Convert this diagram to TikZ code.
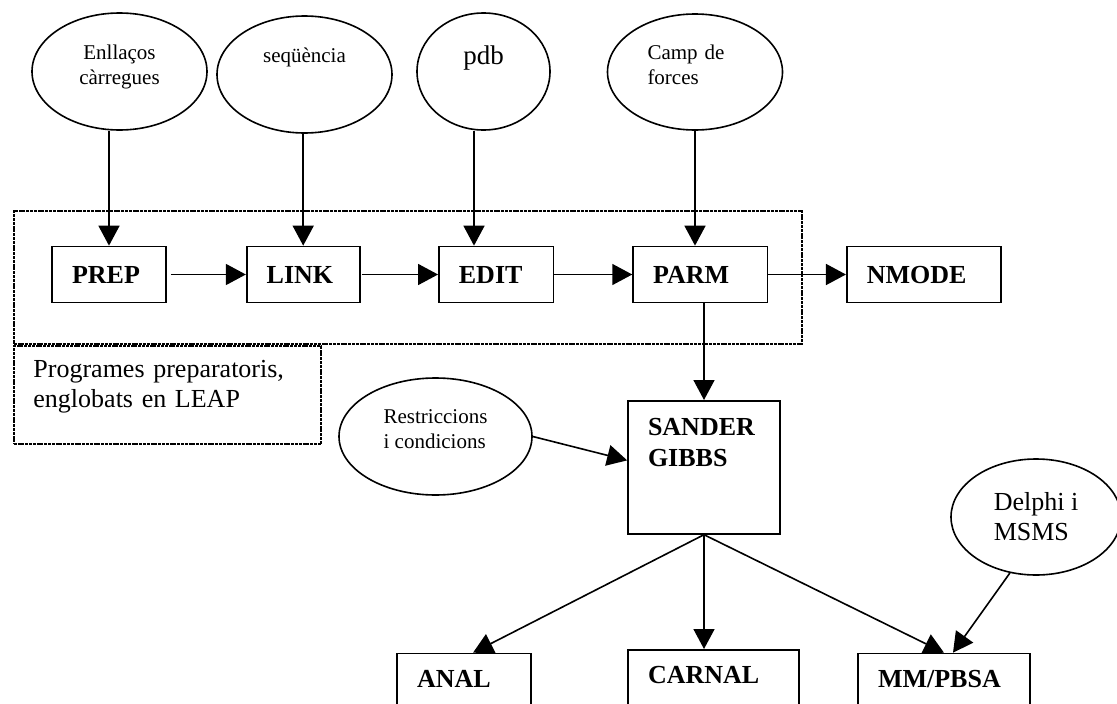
\documentclass[tikz,border=0pt]{standalone}
\usepackage{fontspec}
\setmainfont{Liberation Serif}
\usepackage{tikz}
\usetikzlibrary{arrows.meta,positioning,shapes.geometric}
\tikzset{
  prog/.style={draw,line width=1.7pt,inner xsep=20pt,inner ysep=0pt,align=left,text width=#1,minimum height=56pt,text height=17pt,text depth=0pt,font=\fontsize{26}{31}\selectfont\bfseries},
  src/.style={draw,ellipse,line width=1.6pt,inner sep=0pt,align=center,font=\fontsize{21}{25}\selectfont},
  leapbox/.style={draw,line width=2.2pt,dash pattern=on 3pt off 0.8pt,inner sep=0pt},
  ar/.style={-{Triangle[length=20pt,width=21pt]},line width=1.6pt},
}

\begin{document}
\begin{tikzpicture}[x=1pt,y=-1pt]
  \useasboundingbox (0,0) rectangle (1117,704);
  \clip (0,0) rectangle (1117,704);
  % LEAP frame
  \node[leapbox,minimum width=788.3pt,minimum height=133.5pt,anchor=north west] (leap) at (12.7,209.5) {};
  \node[leapbox,minimum width=307.3pt,minimum height=98pt,anchor=north west,text width=268pt,align=left,text depth=52pt,font=\fontsize{26}{30}\selectfont] (leaplbl) at (leap.south west) {Programes preparatoris,\\englobats en LEAP};
  % inputs
  \node[src,minimum width=175pt,minimum height=117pt,text depth=13pt] (enl) at (119.5,71.5) {Enllaços\\càrregues};
  \node[src,minimum width=175pt,minimum height=117pt,text depth=38pt] (seq) at (304.5,74.5) {seqüència};
  \node[src,minimum width=133pt,minimum height=117pt,text depth=33pt,font=\fontsize{27}{32}\selectfont] (pdb) at (483.5,71.5) {pdb};
  \node[src,minimum width=175pt,minimum height=116pt,align=left,text width=95pt,text depth=39pt] (camp) at (695,72) {Camp de\\forces};
  \node[src,minimum width=193pt,minimum height=117pt,align=left,text depth=15pt] (restr) at (435.5,436.5) {Restriccions\\i condicions};
  \node[src,minimum width=170pt,minimum height=116pt,align=left,font=\fontsize{26}{30}\selectfont] (delphi) at (1036,517) {Delphi i\\MSMS};
  % programs
  \node[prog=74pt] (prep) at (109,274.5) {PREP};
  \node[prog=73pt,right=79pt of prep] (link) {LINK};
  \node[prog=74.5pt,right=77.5pt of link] (edit) {EDIT};
  \node[prog=94.5pt,right=78pt of edit] (parm) {PARM};
  \node[prog=114pt,right=77.5pt of parm] (nmode) {NMODE};
  \node[prog=112pt,anchor=north,text height=35pt,text depth=98pt] (sander) at (704,400) {SANDER\\GIBBS};
  \node[prog=94pt,anchor=north,text height=34pt,text depth=30pt] (anal) at (464,652.7) {ANAL};
  \node[prog=131pt,anchor=north,text height=34pt,text depth=30pt] (carnal) at (713.5,649) {CARNAL};
  \node[prog=132pt,anchor=north,text height=34pt,text depth=30pt] (mmpbsa) at (944,652.7) {MM/PBSA};
  % connections
  \draw[ar] (enl.south -| prep.north) -- (prep.north);
  \draw[ar] (seq.south -| link.north) -- (link.north);
  \draw[ar] ([xshift=-9.5pt]pdb.south) -- ([xshift=-9.5pt]pdb.south |- edit.north);
  \draw[ar] (camp.south) -- (camp.south |- parm.north);
  \draw[ar] ([xshift=4pt]prep.east) -- (link.west);
  \draw[ar] ([xshift=1pt]link.east) -- (edit.west);
  \draw[ar] (edit) -- (parm);
  \draw[ar] (parm) -- (nmode);
  \draw[ar] (parm.south -| sander.north) -- (sander.north);
  \draw[ar] (restr.east) -- ([yshift=7pt]sander.west);
  \draw[ar] (sander.south) -- ([xshift=9pt]anal.north);
  \draw[ar] (sander.south) -- (sander.south |- carnal.north);
  \draw[ar] (sander.south) -- (mmpbsa.north);
  \draw[ar] (delphi.245) -- ([xshift=9pt]mmpbsa.north);
\end{tikzpicture}
\end{document}
